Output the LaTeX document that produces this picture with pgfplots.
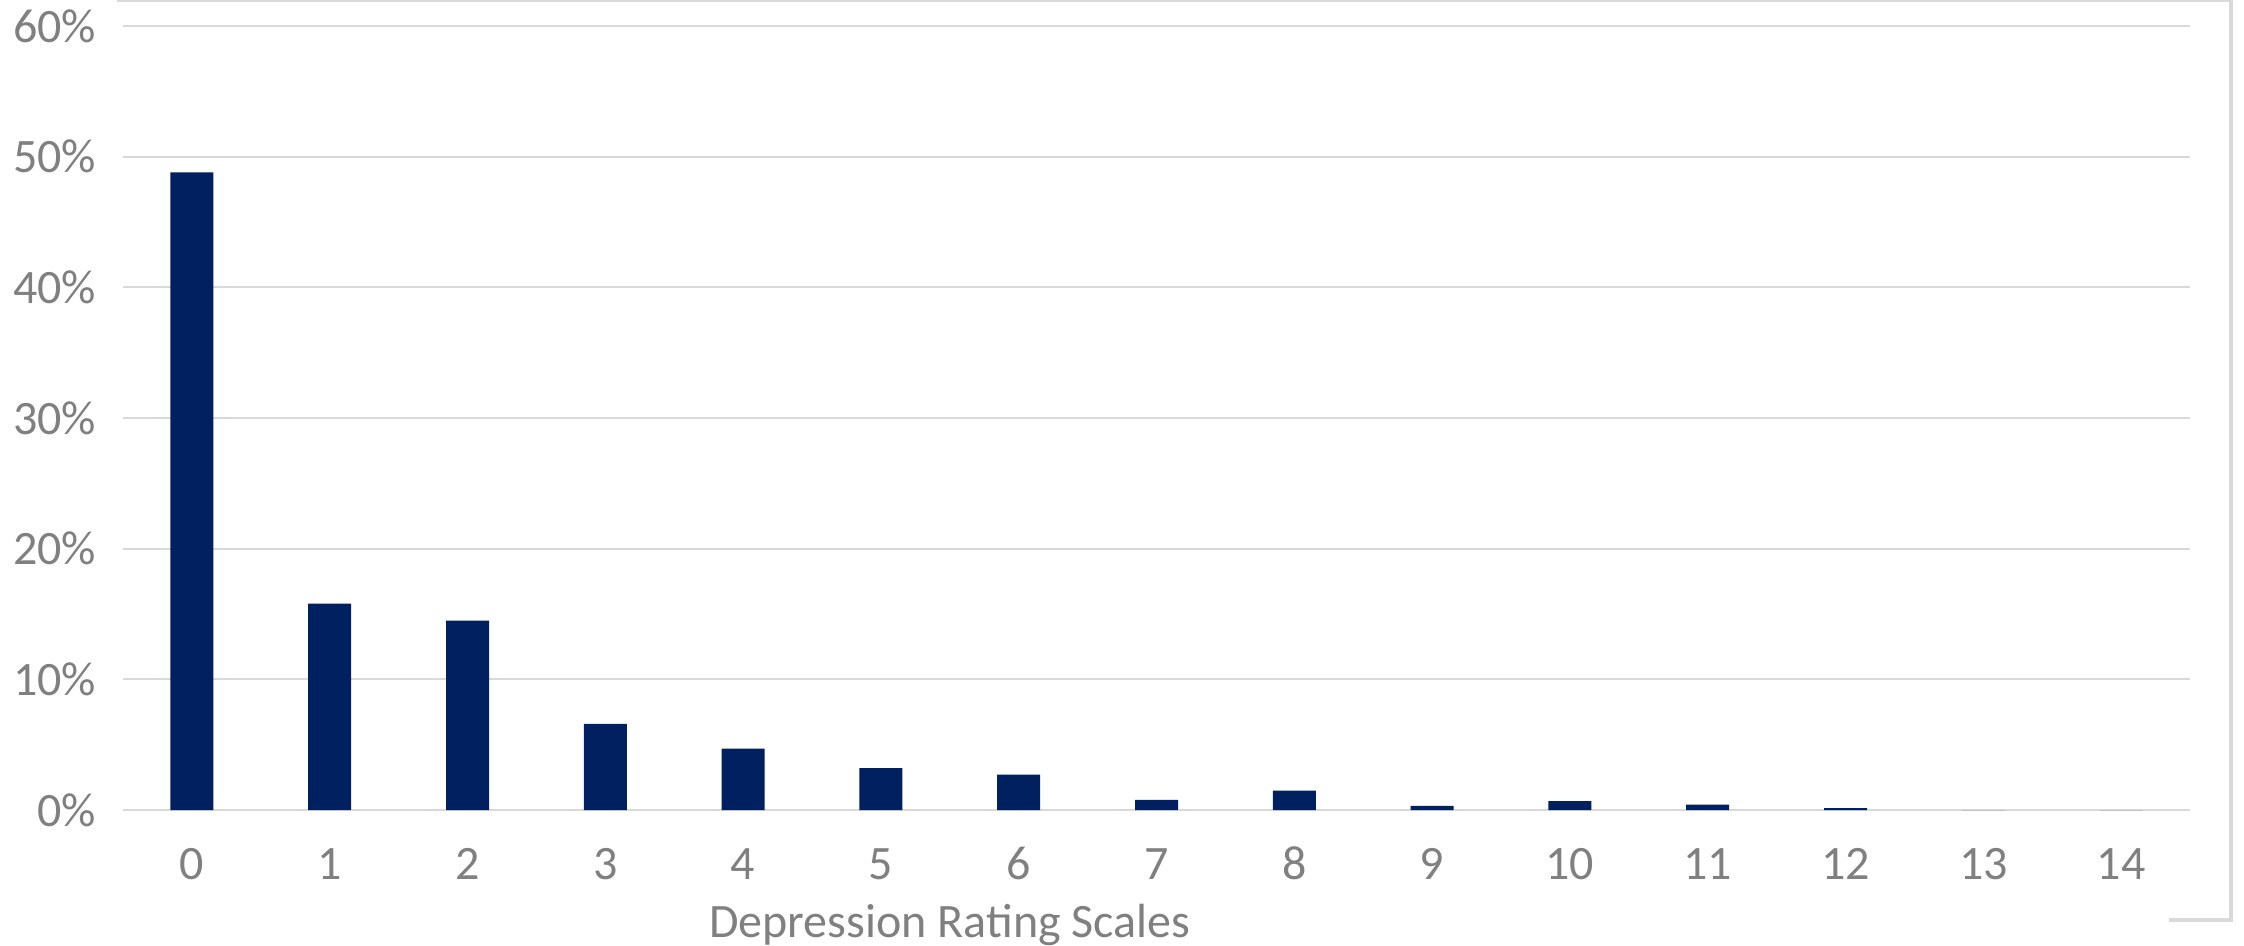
\documentclass[border=0pt]{standalone}
\usepackage{pgfplots}
\pgfplotsset{compat=1.18}
\usepackage{fontspec}
\setmainfont{Carlito}
\definecolor{barblue}{RGB}{0,32,96}
\definecolor{gridgray}{RGB}{217,217,217}
\definecolor{txtgray}{RGB}{128,128,128}
\begin{document}
\begin{tikzpicture}
\useasboundingbox (0,0) rectangle (561pt,236.25pt);
\begin{axis}[
  at={(30.75pt,33.75pt)}, anchor=south west,
  scale only axis,
  width=516.75pt, height=196pt,
  xmin=-0.5, xmax=14.5,
  ymin=0, ymax=60,
  xtick={0,...,14},
  ytick={0,10,...,60},
  ybar, bar width=10.75pt, bar shift=0pt,
  axis x line=bottom, axis y line=left,
  x axis line style={draw=gridgray, line width=0.6pt, -},
  y axis line style={draw=none},
  major tick length=0pt,
  tick style={draw=none},
  ymajorgrids, grid style={draw=gridgray, line width=0.5pt},
  /pgf/number format/assume math mode=true,
  font=\fontsize{12}{14}\selectfont,
  tick label style={text=txtgray},
  yticklabel={\pgfmathprintnumber{\tick}\%},
  yticklabel style={anchor=east, inner sep=0pt, xshift=-6.5pt},
  xticklabel style={anchor=base, inner sep=0pt, yshift=-17.25pt},
  xlabel={Depression Rating Scales},
  xlabel style={at={(axis description cs:0.4,0)}, anchor=base, yshift=-31.75pt, text=txtgray, inner sep=0pt},
  clip=false,
]
\addplot[fill=barblue, draw=none] coordinates {
  (0,48.8) (1,15.8) (2,14.5) (3,6.6) (4,4.7) (5,3.2) (6,2.7) (7,0.77)
  (8,1.48) (9,0.32) (10,0.69) (11,0.41) (12,0.14) (13,0) (14,0)
};
\end{axis}
\draw[gridgray, line width=0.4pt] (29.25pt,236pt) -- (557.75pt,236pt);
\draw[gridgray, line width=1pt] (557.75pt,236.25pt) -- (557.75pt,6.25pt) -- (542.25pt,6.25pt);
\end{tikzpicture}
\end{document}
